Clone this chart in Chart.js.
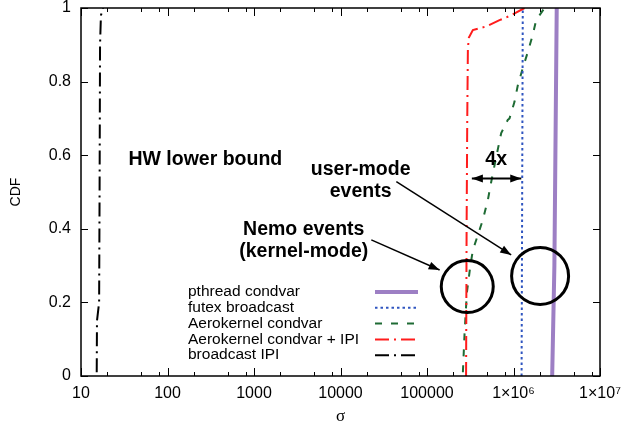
<!DOCTYPE html>
<html>
<head>
<meta charset="utf-8">
<script src="https://cdn.jsdelivr.net/npm/chart.js@4/dist/chart.umd.min.js"></script>
<style>
  body { margin: 0; background: #fff; }
  #wrap { width: 621px; height: 425px; }
</style>
</head>
<body>
<div id="wrap"><canvas id="mycanvas"></canvas></div>
<script>
// Series labels (same order as the key)
var labels = ['pthread condvar', 'futex broadcast', 'Aerokernel condvar', 'Aerokernel condvar + IPI', 'broadcast IPI'];

// pthread condvar
var pthreadX = [2800000, 2970000, 3160000];
var pthreadY = [0, 0.3, 1];
// futex broadcast
var futexX = [1240000, 1260000, 1280000];
var futexY = [0, 0.5, 1];
// Aerokernel condvar
var aeroX = [260000, 272000, 289000, 316000, 339000, 387000, 442000, 505000, 553000, 631000, 721000, 859000, 899000, 1027000, 1122000, 1281000, 1462000, 1670000, 1828000, 2280000];
var aeroY = [0.01, 0.117, 0.226, 0.297, 0.342, 0.383, 0.424, 0.478, 0.528, 0.595, 0.66, 0.696, 0.70, 0.745, 0.79, 0.837, 0.88, 0.927, 0.967, 1];
// Aerokernel condvar + IPI
var aeroIpiX = [283000, 287000, 292000, 297000, 305000, 339000, 484000, 689000, 940000, 1340000];
var aeroIpiY = [0, 0.4, 0.7, 0.89, 0.92, 0.94, 0.95, 0.967, 0.98, 1];
// broadcast IPI
var ipiX = [15.2, 15.3, 16.2, 16.4, 16.6, 17, 18];
var ipiY = [0.01, 0.15, 0.2, 0.5, 0.9, 0.98, 1];

// Axis ticks
var xTicks = [10, 100, 1000, 10000, 100000, 1000000, 10000000];
var xTickLabels = ['10', '100', '1000', '10000', '100000', '1×10⁶', '1×10⁷'];
var yTicks = [0, 0.2, 0.4, 0.6, 0.8, 1];
var yTickLabels = ['0', '0.2', '0.4', '0.6', '0.8', '1'];

var FONT = "'Liberation Sans', Arial, sans-serif";

function pts(xs, ys) {
  var out = [];
  for (var i = 0; i < xs.length; i++) out.push({x: xs[i], y: ys[i]});
  return out;
}

// Text, arrows and circles written over the plot (in data units)
var notes = [
  {text: 'HW lower bound', x: 274, y: 0.587},
  {text: 'user-mode', x: 17100, y: 0.560},
  {text: 'events', x: 17100, y: 0.500},
  {text: '4x', x: 631000, y: 0.587},
  {text: 'Nemo events', x: 3760, y: 0.397},
  {text: '(kernel-mode)', x: 3760, y: 0.337}
];
var arrows = [
  {x1: 22700, y1: 0.37, x2: 140000, y2: 0.288, both: false, w: 1.5},
  {x1: 44200, y1: 0.528, x2: 940000, y2: 0.329, both: false, w: 1.5},
  {x1: 330000, y1: 0.537, x2: 1230000, y2: 0.537, both: true, w: 2}
];
var circles = [
  {x: 292000, y: 0.243, r: 26},
  {x: 2030000, y: 0.272, r: 28.5}
];

function arrowHead(c, x1, y1, x2, y2) {
  var a = Math.atan2(y2 - y1, x2 - x1);
  var len = 11, hw = 4;
  c.beginPath();
  c.moveTo(x2, y2);
  c.lineTo(x2 - len * Math.cos(a) + hw * Math.sin(a), y2 - len * Math.sin(a) - hw * Math.cos(a));
  c.lineTo(x2 - len * Math.cos(a) - hw * Math.sin(a), y2 - len * Math.sin(a) + hw * Math.cos(a));
  c.closePath();
  c.fill();
}

var framePlugin = {
  id: 'frame',
  afterDatasetsDraw: function(chart) {
    var c = chart.ctx, a = chart.chartArea;
    var xs = chart.scales.x, ys = chart.scales.y;
    c.save();
    c.strokeStyle = '#000';
    c.fillStyle = '#000';
    c.lineWidth = 1.5;
    c.strokeRect(a.left, a.top, a.right - a.left, a.bottom - a.top);

    // inward ticks, bottom and top
    c.lineWidth = 1;
    for (var d = 0; d < xTicks.length; d++) {
      var px = Math.round(xs.getPixelForValue(xTicks[d])) + 0.5;
      c.beginPath();
      c.moveTo(px, a.bottom); c.lineTo(px, a.bottom - 8);
      c.moveTo(px, a.top); c.lineTo(px, a.top + 8);
      c.stroke();
      if (d < xTicks.length - 1) {
        [2, 5, 8].forEach(function(m) {
          var mx = Math.round(xs.getPixelForValue(xTicks[d] * m)) + 0.5;
          c.beginPath();
          c.moveTo(mx, a.bottom); c.lineTo(mx, a.bottom - 4);
          c.moveTo(mx, a.top); c.lineTo(mx, a.top + 4);
          c.stroke();
        });
      }
    }
    // left and right
    yTicks.forEach(function(v) {
      var py = Math.round(ys.getPixelForValue(v)) + 0.5;
      c.beginPath();
      c.moveTo(a.left, py); c.lineTo(a.left + 7, py);
      c.moveTo(a.right, py); c.lineTo(a.right - 7, py);
      c.stroke();
    });

    // key
    c.font = '15.5px ' + FONT;
    c.textBaseline = 'middle';
    c.textAlign = 'left';
    chart.data.datasets.forEach(function(ds, i) {
      var ry = 292 + i * 15.8;
      c.fillStyle = '#000';
      c.fillText(ds.label, a.left + 107, ry);
      c.strokeStyle = ds.borderColor;
      c.lineWidth = ds.borderWidth;
      c.setLineDash(ds.borderDash || []);
      c.beginPath();
      c.moveTo(a.left + 294, ry); c.lineTo(a.left + 337, ry);
      c.stroke();
    });
    c.setLineDash([]);

    // notes
    c.fillStyle = '#000';
    c.strokeStyle = '#000';
    c.font = 'bold 19.5px ' + FONT;
    c.textAlign = 'center';
    notes.forEach(function(n) {
      c.fillText(n.text, xs.getPixelForValue(n.x), ys.getPixelForValue(n.y));
    });
    arrows.forEach(function(r) {
      var x1 = xs.getPixelForValue(r.x1), y1 = ys.getPixelForValue(r.y1);
      var x2 = xs.getPixelForValue(r.x2), y2 = ys.getPixelForValue(r.y2);
      c.lineWidth = r.w;
      c.beginPath(); c.moveTo(x1, y1); c.lineTo(x2, y2); c.stroke();
      arrowHead(c, x1, y1, x2, y2);
      if (r.both) arrowHead(c, x2, y2, x1, y1);
    });
    c.lineWidth = 3;
    circles.forEach(function(o) {
      c.beginPath();
      c.arc(xs.getPixelForValue(o.x), ys.getPixelForValue(o.y), o.r, 0, Math.PI * 2);
      c.stroke();
    });
    c.restore();
  }
};

var ctx = document.getElementById('mycanvas');
var lineGraph = new Chart(ctx, {
  type: 'scatter',
  data: {
    datasets: [
      {label: labels[0], data: pts(pthreadX, pthreadY), borderColor: '#9d7fc4', borderWidth: 4, order: 2},
      {label: labels[1], data: pts(futexX, futexY), borderColor: '#2f55c0', borderWidth: 2, borderDash: [2.5, 3], order: 2},
      {label: labels[2], data: pts(aeroX, aeroY), borderColor: '#1e6b34', borderWidth: 2, borderDash: [7, 9], order: 2},
      {label: labels[3], data: pts(aeroIpiX, aeroIpiY), borderColor: '#ff1c1c', borderWidth: 2, borderDash: [14, 5, 2, 5], order: 1},
      {label: labels[4], data: pts(ipiX, ipiY), borderColor: '#000000', borderWidth: 2, borderDash: [14, 5, 2, 5], order: 2}
    ]
  },
  options: {
    responsive: true,
    maintainAspectRatio: false,
    animation: false,
    devicePixelRatio: 1,
    layout: {padding: {left: 0, right: 21, top: 8, bottom: 0}},
    showLine: true,
    elements: {point: {radius: 0}, line: {tension: 0, fill: false}},
    plugins: {legend: {display: false}, tooltip: {enabled: false}},
    scales: {
      x: {
        type: 'logarithmic',
        min: 10, max: 10000000,
        grid: {display: false, drawTicks: false},
        border: {display: false},
        afterBuildTicks: function(s) { s.ticks = xTicks.map(function(v) { return {value: v}; }); },
        afterFit: function(s) { s.height = 49; s.paddingLeft = 0; s.paddingRight = 0; },
        ticks: {
          autoSkip: false, maxRotation: 0, padding: 8, color: '#000',
          font: {family: FONT, size: 16},
          callback: function(v) { var i = xTicks.indexOf(v); return i < 0 ? '' : xTickLabels[i]; }
        },
        title: {display: true, text: 'σ', color: '#000', font: {family: "'Liberation Serif', serif", size: 17, lineHeight: 1}, padding: {top: 0, bottom: 0}}
      },
      y: {
        min: 0, max: 1,
        grid: {display: false, drawTicks: false},
        border: {display: false},
        afterBuildTicks: function(s) { s.ticks = yTicks.map(function(v) { return {value: v}; }); },
        afterFit: function(s) { s.width = 81; s.paddingTop = 0; s.paddingBottom = 0; },
        ticks: {
          padding: 10, color: '#000',
          font: {family: FONT, size: 16},
          callback: function(v) { var i = yTicks.indexOf(v); return i < 0 ? '' : yTickLabels[i]; }
        },
        title: {display: true, text: 'CDF', color: '#000', font: {family: FONT, size: 14}, padding: {top: 8, bottom: 0}}
      }
    }
  },
  plugins: [framePlugin]
});
</script>
</body>
</html>
